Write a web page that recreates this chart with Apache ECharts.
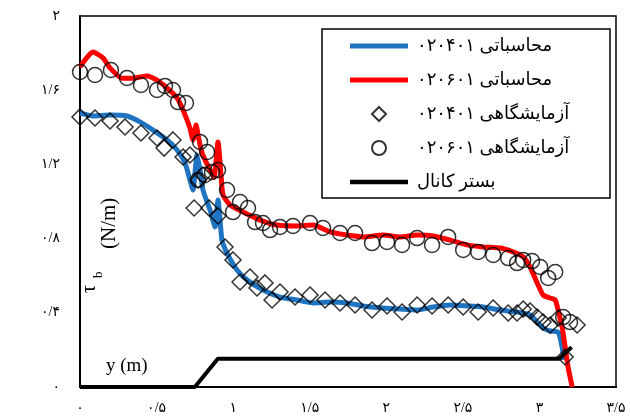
<!DOCTYPE html>
<html><head><meta charset="utf-8">
<script src="https://cdn.jsdelivr.net/npm/echarts@6/dist/echarts.min.js"></script>
<style>html,body{margin:0;padding:0;background:#fff}#c{width:630px;height:418px}</style>
</head><body><div id="c"></div>
<script>
const xTickLabels = ['۰','۰/۵','۱','۱/۵','۲','۲/۵','۳','۳/۵'];
const yTickLabels = ['۰','۰/۴','۰/۸','۱/۲','۱/۶','۲'];
const seriesNames = ['محاسباتی ۰۲۰۴۰۱','محاسباتی ۰۲۰۶۰۱','آزمایشگاهی ۰۲۰۴۰۱','آزمایشگاهی ۰۲۰۶۰۱','بستر کانال'];
const xAxisName = 'y (m)';

const calc020401 = [
 [0,1.477],[0.085,1.461],[0.196,1.466],[0.307,1.461],[0.392,1.429],[0.477,1.385],[0.568,1.332],[0.634,1.278],
 [0.686,1.208],[0.718,1.116],[0.738,1.062],[0.764,1.251],[0.784,1.17],[0.803,1.062],[0.849,0.954],[0.882,0.863],
 [0.901,1.008],[0.927,0.792],[0.96,0.722],[1.025,0.631],[1.091,0.577],[1.195,0.523],[1.306,0.485],[1.417,0.469],
 [1.522,0.453],[1.633,0.458],[1.744,0.453],[1.848,0.437],[1.979,0.426],[2.09,0.42],[2.201,0.415],[2.306,0.431],
 [2.417,0.442],[2.528,0.437],[2.632,0.431],[2.743,0.415],[2.854,0.404],[2.939,0.388],[2.985,0.35],[3.024,0.318],
 [3.07,0.302],[3.122,0.296],[3.148,0.216],[3.161,0.146]
];
const calc020601 = [
 [0,1.725],[0.085,1.806],[0.15,1.774],[0.196,1.72],[0.274,1.665],[0.346,1.665],[0.438,1.677],[0.503,1.654],
 [0.568,1.612],[0.634,1.558],[0.673,1.493],[0.718,1.396],[0.738,1.332],[0.758,1.412],[0.771,1.358],[0.797,1.261],
 [0.849,1.17],[0.875,1.132],[0.901,1.321],[0.921,1.143],[0.934,1.035],[0.98,0.981],[1.065,0.943],[1.176,0.9],
 [1.287,0.873],[1.417,0.868],[1.522,0.873],[1.633,0.836],[1.744,0.819],[1.848,0.809],[1.979,0.819],[2.09,0.809],
 [2.201,0.819],[2.306,0.814],[2.417,0.792],[2.528,0.766],[2.632,0.755],[2.743,0.749],[2.828,0.728],[2.894,0.701],
 [2.939,0.647],[2.985,0.561],[3.024,0.496],[3.07,0.48],[3.103,0.469],[3.122,0.415],[3.148,0.323],[3.168,0.216],
 [3.187,0.108],[3.214,0]
];
const exp020401 = [
 [0,1.456],[0.098,1.45],[0.196,1.434],[0.294,1.402],[0.398,1.369],[0.503,1.342],[0.549,1.288],[0.607,1.332],
 [0.673,1.24],[0.718,1.251],[0.771,1.116],[0.803,1.143],[0.745,0.965],[0.843,0.965],[0.901,0.922],[0.947,0.755],
 [0.999,0.685],[1.045,0.566],[1.11,0.593],[1.156,0.534],[1.208,0.561],[1.254,0.469],[1.306,0.512],[1.404,0.485],
 [1.502,0.496],[1.6,0.469],[1.698,0.453],[1.796,0.442],[1.907,0.415],[2.005,0.437],[2.103,0.404],[2.201,0.442],
 [2.299,0.437],[2.404,0.442],[2.502,0.431],[2.6,0.404],[2.698,0.426],[2.796,0.399],[2.854,0.399],[2.894,0.42],
 [2.939,0.41],[2.985,0.377],[3.024,0.35],[3.07,0.334],[3.122,0.372],[3.246,0.334],[3.168,0.162]
];
const exp020601 = [
 [0,1.698],[0.098,1.682],[0.202,1.709],[0.307,1.666],[0.398,1.628],[0.503,1.601],[0.555,1.623],[0.607,1.601],
 [0.64,1.536],[0.692,1.531],[0.784,1.321],[0.83,1.267],[0.771,1.116],[0.816,1.143],[0.862,1.159],[0.901,1.17],
 [0.96,1.062],[1.045,0.997],[0.999,0.943],[1.097,0.965],[1.143,0.889],[1.195,0.884],[1.241,0.846],[1.306,0.863],
 [1.391,0.868],[1.502,0.884],[1.587,0.857],[1.698,0.83],[1.796,0.83],[1.907,0.776],[2.005,0.782],[2.103,0.766],
 [2.201,0.803],[2.299,0.766],[2.404,0.809],[2.502,0.739],[2.6,0.728],[2.698,0.712],[2.796,0.695],[2.854,0.668],
 [2.894,0.685],[2.952,0.679],[3.005,0.647],[3.057,0.588],[3.103,0.62],[3.155,0.377],[3.2,0.35]
];
const channelBed = [[0,0],[0.75,0],[0.9,0.152],[3.13,0.152],[3.21,0.215]];

const chart = echarts.init(document.getElementById('c'), null, {renderer:'canvas'});
const serif = "'Liberation Serif','Times New Roman','DejaVu Sans',serif";
const hollow = {color:'rgba(0,0,0,0)', borderColor:'#000', borderWidth:1.5};
const lineIcon = 'path://M0,0L58,0L58,5L0,5Z';
chart.setOption({
  animation:false,
  backgroundColor:'#fff',
  grid:{left:80,right:14,top:16,bottom:31,show:true,borderColor:'#000',borderWidth:1.5,backgroundColor:'transparent'},
  xAxis:{type:'value',min:0,max:3.5,interval:0.5,
    axisLine:{show:true,onZero:false,lineStyle:{color:'#000',width:2}},
    axisTick:{show:false},splitLine:{show:false},
    axisLabel:{color:'#000',fontFamily:serif,fontSize:14,margin:14,
      formatter:v=>xTickLabels[Math.round(v/0.5)]}},
  yAxis:{type:'value',min:0,max:2,interval:0.4,
    axisLine:{show:true,onZero:false,lineStyle:{color:'#000',width:2}},
    axisTick:{show:false},splitLine:{show:false},
    axisLabel:{color:'#000',fontFamily:serif,fontSize:14,margin:20,
      formatter:v=>yTickLabels[Math.round(v/0.4)]}},
  legend:{orient:'vertical',left:322,top:29,itemWidth:58,itemHeight:14,itemGap:16,
    padding:[8,16,7,28],borderColor:'#000',borderWidth:1.5,backgroundColor:'#fff',
    symbolKeepAspect:true,
    textStyle:{color:'#000',fontFamily:serif,fontSize:18,lineHeight:18,width:177,padding:[0,0,0,4]},
    data:[
      {name:seriesNames[0],icon:lineIcon},
      {name:seriesNames[1],icon:lineIcon},
      {name:seriesNames[2],icon:'path://M7,0L14,7L7,14L0,7Z'},
      {name:seriesNames[3],icon:'circle'},
      {name:seriesNames[4],icon:'path://M0,0L50,0L50,4L0,4Z'}
    ]},
  graphic:[
    {type:'text',left:106,top:357,style:{text:xAxisName,font:"19px 'Liberation Serif',serif",fill:'#000'}},
    {type:'text',x:90,y:293,rotation:Math.PI/2,
      style:{text:'τ',font:"20px 'Liberation Serif',serif",fill:'#000',textAlign:'left',textVerticalAlign:'middle'}},
    {type:'text',x:99,y:278,rotation:Math.PI/2,
      style:{text:'b',font:"13px 'Liberation Serif',serif",fill:'#000',textAlign:'left',textVerticalAlign:'middle'}},
    {type:'text',x:109,y:249,rotation:Math.PI/2,
      style:{text:'(N/m)',font:"21px 'Liberation Serif',serif",fill:'#000',textAlign:'left',textVerticalAlign:'middle'}}
  ],
  series:[
    {name:seriesNames[4],type:'line',data:channelBed,symbol:'none',itemStyle:{color:'#000'},lineStyle:{color:'#000',width:4},z:3},
    {name:seriesNames[0],type:'line',data:calc020401,symbol:'none',smooth:0.2,itemStyle:{color:'#1f74c2'},lineStyle:{color:'#1f74c2',width:5},z:2},
    {name:seriesNames[1],type:'line',data:calc020601,symbol:'none',smooth:0.2,itemStyle:{color:'#ff0000'},lineStyle:{color:'#ff0000',width:5},z:2},
    {name:seriesNames[2],type:'scatter',data:exp020401,symbol:'diamond',symbolSize:16,itemStyle:hollow,z:4},
    {name:seriesNames[3],type:'scatter',data:exp020601,symbol:'circle',symbolSize:15,itemStyle:hollow,z:4}
  ]
});
</script></body></html>
